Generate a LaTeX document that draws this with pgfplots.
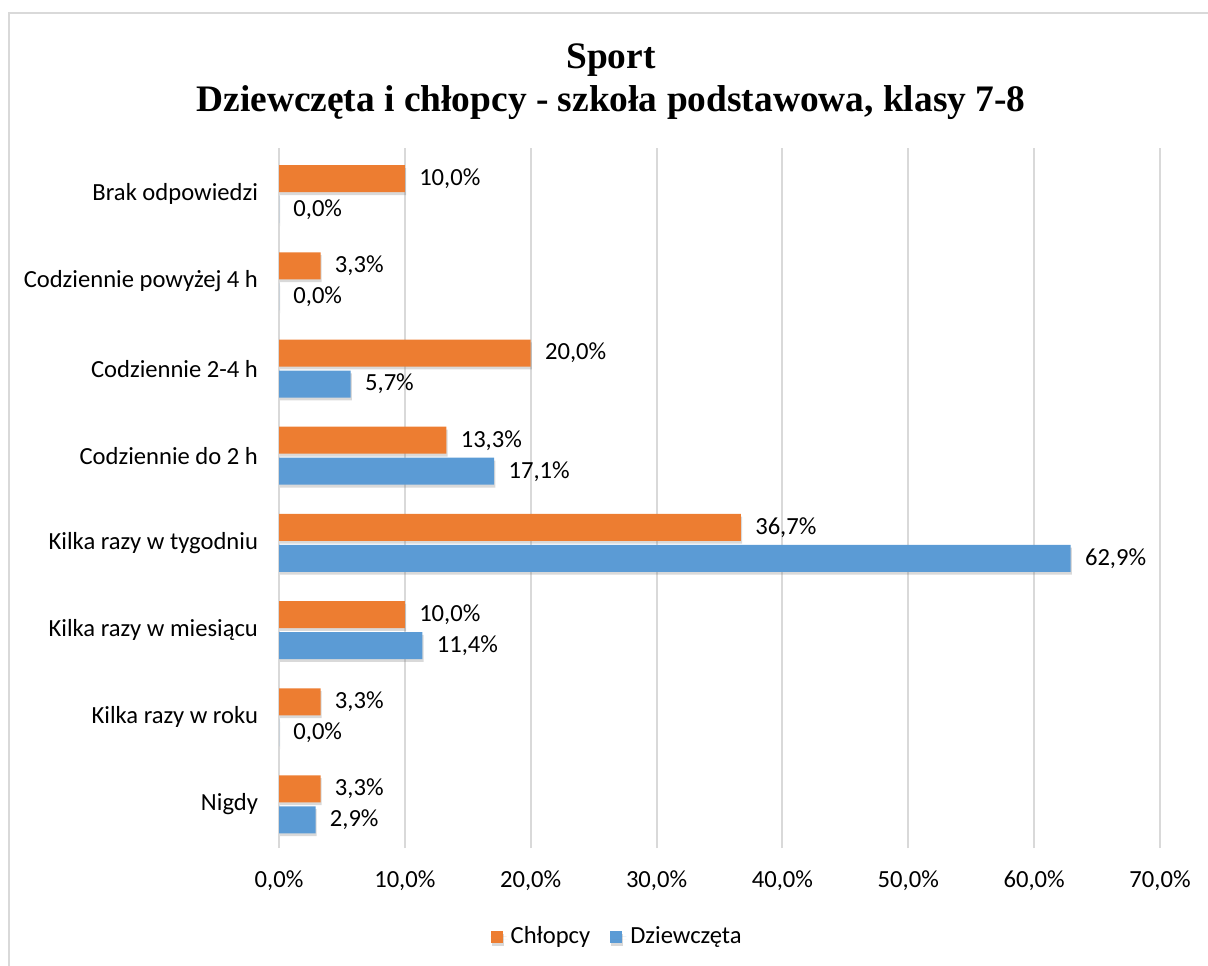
\documentclass[border=0pt]{standalone}
\usepackage{pgfplots}
\pgfplotsset{compat=1.18}
\usepackage{fontspec}
\setmainfont{Carlito}
\newfontfamily\titlefont{Liberation Serif}
\usetikzlibrary{shadows}

\definecolor{orMid}{HTML}{ED7D31}
\definecolor{blMid}{HTML}{5B9BD5}
\definecolor{gridgray}{HTML}{D9D9D9}

\begin{document}
\begin{tikzpicture}
% 1 px of the reference = 0.5pt
\useasboundingbox (0pt,0pt) rectangle (604pt,-482.5pt);
\draw[gridgray, line width=1pt] (4.5pt,-6.5pt) rectangle (620pt,-500pt);

\node[anchor=base, font=\titlefont\bfseries\fontsize{18.7}{22}\selectfont] at (305.5pt,-34pt) {Sport};
\node[anchor=base, font=\titlefont\bfseries\fontsize{18.7}{22}\selectfont] at (305.5pt,-55.5pt) {Dziewczęta i chłopcy - szkoła podstawowa, klasy 7-8};

\begin{axis}[
    at={(139.5pt,-424pt)}, anchor=south west,
    scale only axis,
    width=440.5pt, height=350pt,
    xbar, bar width=13.5pt,
    xmin=0, xmax=70,
    ymin=-0.5, ymax=7.53,
    xtick={0,10,...,70},
    ytick={0,...,7},
    yticklabels={Nigdy, Kilka razy w roku, Kilka razy w miesiącu, Kilka razy w tygodniu, Codziennie do 2 h, Codziennie 2-4 h, Codziennie powyżej 4 h, Brak odpowiedzi},
    xmajorgrids, major grid style={gridgray, line width=1pt},
    axis line style={draw=none},
    major tick length=0pt,
    /pgf/number format/.cd, fixed, fixed zerofill, precision=1, use comma, assume math mode=true,
    /pgfplots/.cd,
    xticklabel={\pgfmathprintnumber{\tick}\%},
    tick label style={font=\fontsize{12.3}{14}\selectfont, text=black},
    xticklabel style={yshift=-8pt},
    yticklabel style={xshift=-7pt},
    nodes near coords={\pgfmathprintnumber{\pgfplotspointmeta}\%},
    every node near coord/.append style={font=\fontsize{12.3}{14}\selectfont, text=black, anchor=west, inner sep=0pt, xshift=7pt},
    legend style={draw=none, at={(axis description cs:0.385,-0.127)}, anchor=center,
        legend columns=2, font=\fontsize{12.3}{14}\selectfont,
        /tikz/every even column/.append style={column sep=8pt}},
]
\addplot[bar shift=7.75pt, draw=none, fill=orMid,
    drop shadow={shadow xshift=0.6pt, shadow yshift=-1.4pt, opacity=0.3},
    legend image code/.code={\fill[orMid] (0pt,-3pt) rectangle (6pt,3pt); \path (0pt,0pt) -- (8pt,0pt);}]
coordinates {(3.3,0) (3.3,1) (10.0,2) (36.7,3) (13.3,4) (20.0,5) (3.3,6) (10.0,7)};
\addlegendentry{Chłopcy}
\addplot[bar shift=-7.75pt, draw=none, fill=blMid,
    drop shadow={shadow xshift=0.6pt, shadow yshift=-1.4pt, opacity=0.3},
    legend image code/.code={\fill[blMid] (0pt,-3pt) rectangle (6pt,3pt); \path (0pt,0pt) -- (8pt,0pt);}]
coordinates {(2.9,0) (0,1) (11.4,2) (62.9,3) (17.1,4) (5.7,5) (0,6) (0,7)};
\addlegendentry{Dziewczęta}
\end{axis}
\end{tikzpicture}
\end{document}
